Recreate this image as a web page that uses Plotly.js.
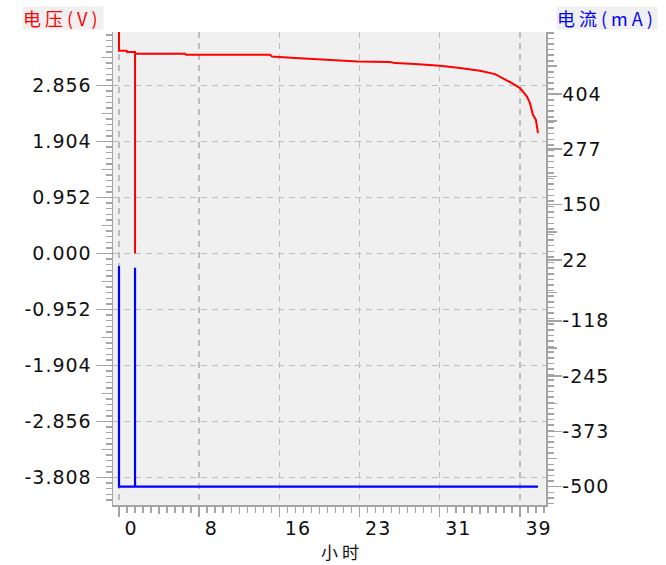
<!DOCTYPE html>
<html>
<head>
<meta charset="utf-8">
<script src="https://cdn.plot.ly/plotly-3.0.1.min.js"></script>
<style>
html,body{margin:0;padding:0;background:#fff;}
#chart{width:666px;height:565px;}
#chart .annotation-text{letter-spacing:4px;}
#chart .xtick text, #chart .ytick text, #chart .y2tick text{letter-spacing:1px;}
</style>
</head>
<body>
<div id="chart"></div>
<script>
// ---- data ----
var voltHours = [0, 0, 0.75, 0.78, 1.56, 1.56, 1.56, 6.42, 6.52, 14.69, 14.88, 17.12, 19.07, 20.82, 23.25, 26.36, 26.85, 28.79, 31.23, 33.17, 35.12, 36.58, 37.55, 38.23, 39.01, 39.69, 39.98, 40.27, 40.56, 40.76];
var volts = [4.05, 3.447, 3.447, 3.424, 3.424, 0, 3.395, 3.395, 3.378, 3.378, 3.35, 3.322, 3.305, 3.281, 3.264, 3.254, 3.237, 3.22, 3.191, 3.152, 3.106, 3.05, 2.965, 2.897, 2.812, 2.669, 2.556, 2.357, 2.272, 2.046];
var currHours = [0, 0, 1.56, 1.56, 1.56, 40.76];
var currents = [8, -500, -500, 4, -500, -500];

var xTickVals = [0, 7.8, 15.6, 23.4, 31.2, 39.0];
var xTickText = ['0', '8', '16', '23', '31', '39'];
var vTickVals = [-3.808, -2.856, -1.904, -0.952, 0, 0.952, 1.904, 2.856];
var vTickText = ['-3.808', '-2.856', '-1.904', '-0.952', '0.000', '0.952', '1.904', '2.856'];
var iTickVals = [-500, -373, -245, -118, 22, 150, 277, 404];
var iTickText = ['-500', '-373', '-245', '-118', '22', '150', '277', '404'];

var voltTitle = '电压(V)';
var currTitle = '电流(mA)';
var xTitle = '小时';

// ---- helpers ----
function mids(arr, step) {
  var out = [];
  for (var i = -1; i < arr.length; i++) {
    var a = (i < 0) ? arr[0] - step : arr[i];
    out.push(a + step / 2);
  }
  return out;
}

var axisGray = '#a4a4a4';
var gridGray = '#bdbdbd';
var tickFont = {family: 'DejaVu Sans', size: 19, color: '#111'};

var xRange = [-0.584, 41.54];
var vRange = [-4.276, 3.766];
var iRange = [-542.1, 546.7];

var traces = [
  {x: voltHours, y: volts, mode: 'lines', line: {color: '#ff0000', width: 2}, xaxis: 'x', yaxis: 'y', hoverinfo: 'skip'},
  {x: currHours, y: currents, mode: 'lines', line: {color: '#0000ff', width: 2.2}, xaxis: 'x', yaxis: 'y2', hoverinfo: 'skip'},
  {x: [], y: [], xaxis: 'x', yaxis: 'y3', hoverinfo: 'skip'},
  {x: [], y: [], xaxis: 'x', yaxis: 'y4', hoverinfo: 'skip'},
  {x: [], y: [], xaxis: 'x2', yaxis: 'y', hoverinfo: 'skip'}
];

var layout = {
  width: 666, height: 565,
  margin: {l: 113, r: 120, t: 32, b: 60, pad: 0},
  paper_bgcolor: '#ffffff',
  plot_bgcolor: '#f0f0f0',
  showlegend: false,
  xaxis: {
    range: xRange, fixedrange: true,
    tickmode: 'array', tickvals: xTickVals, ticktext: xTickText,
    ticks: 'outside', ticklen: 10, tickwidth: 1.5, tickcolor: axisGray,
    showline: true, linecolor: axisGray, linewidth: 1.5,
    showgrid: true, gridcolor: gridGray, gridwidth: 1.5, griddash: '6px,5px',
    zeroline: false,
    tickfont: tickFont,
    ticklabelposition: 'outside right', ticklabelshift: 4, ticklabelstandoff: 6,
    minor: {tickmode: 'linear', tick0: 0, dtick: 0.78, ticks: 'outside', ticklen: 6, tickwidth: 1.5, tickcolor: axisGray, showgrid: false}
  },
  xaxis2: {
    overlaying: 'x', anchor: 'y', side: 'bottom', range: xRange, fixedrange: true,
    tickmode: 'array', tickvals: mids(xTickVals, 7.8), showticklabels: false,
    ticks: 'outside', ticklen: 8, tickwidth: 1.5, tickcolor: axisGray,
    showline: false, showgrid: false, zeroline: false
  },
  yaxis: {
    range: vRange, fixedrange: true,
    tickmode: 'array', tickvals: vTickVals, ticktext: vTickText,
    ticks: 'outside', ticklen: 16, tickwidth: 1.5, tickcolor: axisGray,
    showline: true, linecolor: axisGray, linewidth: 1.5,
    showgrid: true, gridcolor: gridGray, gridwidth: 1.5, griddash: '6px,5px',
    zeroline: false,
    tickfont: tickFont,
    minor: {tickmode: 'linear', tick0: 0, dtick: 0.0952, ticks: 'outside', ticklen: 6, tickwidth: 1.5, tickcolor: axisGray, showgrid: false}
  },
  yaxis2: {
    overlaying: 'y', side: 'right', anchor: 'x', range: iRange, fixedrange: true,
    tickmode: 'array', tickvals: iTickVals, ticktext: iTickText,
    ticks: 'outside', ticklen: 14, tickwidth: 1.5, tickcolor: axisGray,
    showline: true, linecolor: axisGray, linewidth: 1.5,
    showgrid: false, zeroline: false,
    tickfont: tickFont, ticklabelstandoff: -3,
    minor: {tickmode: 'linear', tick0: -500, dtick: 12.9, ticks: 'outside', ticklen: 6, tickwidth: 1.5, tickcolor: axisGray, showgrid: false}
  },
  yaxis3: {
    overlaying: 'y', side: 'left', anchor: 'x', range: vRange, fixedrange: true,
    tickmode: 'array', tickvals: mids(vTickVals, 0.952), showticklabels: false,
    ticks: 'outside', ticklen: 10, tickwidth: 1.5, tickcolor: axisGray,
    showline: false, showgrid: false, zeroline: false
  },
  yaxis4: {
    overlaying: 'y', side: 'right', anchor: 'x', range: iRange, fixedrange: true,
    tickmode: 'array', tickvals: mids(iTickVals, 129), showticklabels: false,
    ticks: 'outside', ticklen: 10, tickwidth: 1.5, tickcolor: axisGray,
    showline: false, showgrid: false, zeroline: false
  },
  annotations: [
    {text: voltTitle, xref: 'paper', yref: 'paper', x: -0.2102, y: 1.0296, xanchor: 'left', yanchor: 'middle',
     showarrow: false, bgcolor: '#f0f0f0', borderpad: 0, width: 80, height: 22, align: 'left',
     font: {family: 'Noto Sans CJK SC', size: 18, color: '#ff0000'}},
    {text: currTitle, xref: 'paper', yref: 'paper', x: 1.0231, y: 1.0296, xanchor: 'left', yanchor: 'middle',
     showarrow: false, bgcolor: '#f0f0f0', borderpad: 0, width: 100, height: 22, align: 'left',
     font: {family: 'Noto Sans CJK SC', size: 18, color: '#0000ff'}},
    {text: xTitle, xref: 'paper', yref: 'paper', x: 0.5289, y: -0.0973, xanchor: 'center', yanchor: 'middle',
     showarrow: false,
     font: {family: 'Noto Sans CJK SC', size: 17, color: '#111'}}
  ]
};

Plotly.newPlot('chart', traces, layout, {staticPlot: true, displayModeBar: false});
</script>
</body>
</html>
